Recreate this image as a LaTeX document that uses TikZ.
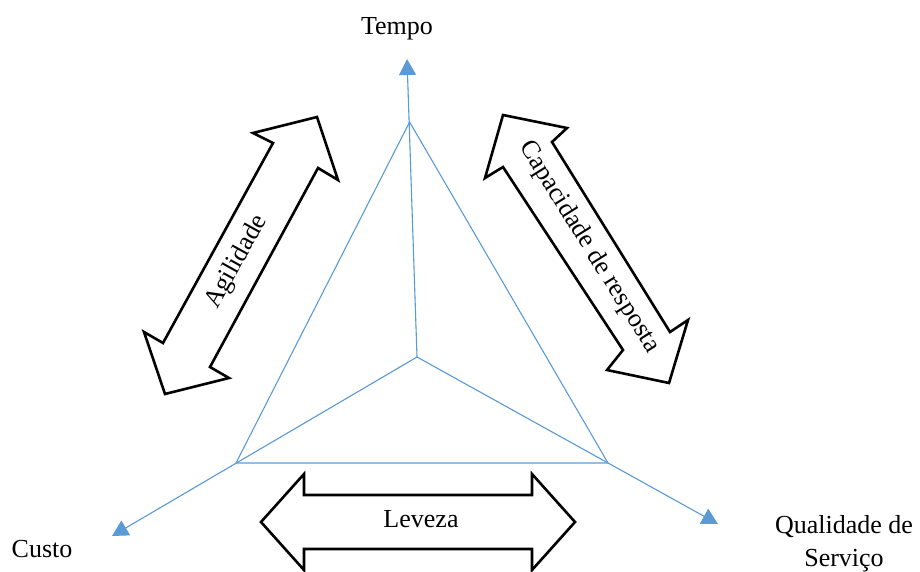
\documentclass[tikz,border=0pt]{standalone}
\usepackage{fontspec}
\setmainfont{Liberation Serif}
\usetikzlibrary{arrows.meta}
\definecolor{axisblue}{RGB}{91,155,213}
\begin{document}
\begin{tikzpicture}[x=1pt,y=-1pt,
  axis/.style={draw=axisblue,line width=1.1pt},
  axisarrow/.style={axis,-{Triangle[width=17pt,length=16pt]},fill=axisblue},
  fatarrow/.style={draw=black,line width=2.6pt,line join=miter,fill=white},
  lbl/.style={font=\fontsize{26}{33}\selectfont,inner sep=0pt}]
\useasboundingbox (0,0) rectangle (920,571);
% axes and triangle
\coordinate (C) at (417,357);
\coordinate (T) at (409.6,122);
\coordinate (L) at (236,463);
\coordinate (R) at (608,463);
\coordinate (tT) at (407,59);
\coordinate (tL) at (112,536);
\coordinate (tR) at (718,524);
\draw[axis] (T) -- (L) -- (R) -- cycle;
\draw[axisarrow] (C) -- (tT);
\draw[axisarrow] (C) -- (tL);
\draw[axisarrow] (C) -- (tR);
% fat double arrows
\draw[fatarrow] (317,117) -- (253,133) -- (273,143) -- (163,343) -- (144,332) -- (165,394)
  -- (229,378) -- (210,367) -- (318,168) -- (338,180) -- cycle;
\draw[fatarrow] (503,115) -- (567,128) -- (552,142) -- (670,332) -- (688,320) -- (669,383)
  -- (607,370) -- (623,350) -- (503,167) -- (485,178) -- cycle;
\draw[fatarrow] (261,522) -- (304,474) -- (304,495) -- (532,495) -- (532,474) -- (575,522)
  -- (532,570) -- (532,549) -- (304,549) -- (304,570) -- cycle;
% labels
\node[lbl,anchor=base] (tempo) at (397,34) {Tempo};
\node[lbl,anchor=base] (custo) at (42,557) {Custo};
\node[lbl,align=center] (qual) at (844,544) {Qualidade de\\Serviço};
\node[lbl,anchor=base] (leveza) at (421,527) {Leveza};
\node[lbl,rotate=61] (agil) at (237,262) {Agilidade};
\node[lbl,rotate=-58] (capac) at (589,247) {Capacidade de resposta};
\end{tikzpicture}
\end{document}
